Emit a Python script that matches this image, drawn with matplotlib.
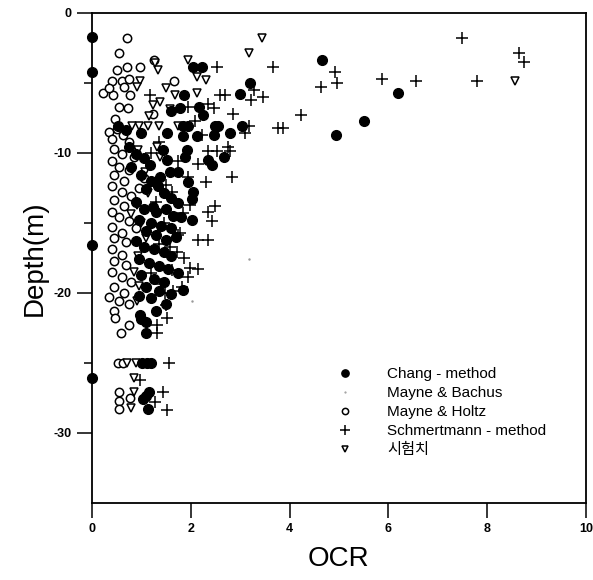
import matplotlib
matplotlib.use("Agg")
import matplotlib.pyplot as plt

# Chang - method (filled circles)
chang_x = [0, 0, 0, 0,
           4.65, 6.2, 5.5, 4.95, 3.2, 3.0, 2.05, 2.22, 1.86, 2.16, 2.24, 1.78, 1.6,
           1.52, 2.5, 2.56, 2.48, 2.8, 3.03, 1.84, 1.94, 1.84, 2.12, 0.53, 0.7, 1.0,
           1.43, 1.51, 1.92, 1.88, 2.34, 2.44, 2.67, 1.17, 1.58, 1.74, 1.37, 1.94,
           1.33, 2.04, 2.02, 1.74, 2.02, 1.23,
           0.75, 0.9, 1.05, 0.8, 1.0, 1.2, 1.1, 1.45, 1.6, 0.9, 1.05, 1.3, 1.5, 1.65,
           1.8, 0.95, 1.2, 1.4, 1.6, 1.1, 1.3, 1.5, 1.7, 0.9, 1.05, 1.25, 1.45, 1.6,
           0.95, 1.15, 1.35, 1.55, 1.75, 1.0, 1.25, 1.45, 1.1, 1.35, 1.6, 1.85, 0.95,
           1.2, 1.5, 1.3,
           0.97, 1.09, 1.09, 1.0, 1.01, 1.11, 1.19, 1.15, 1.03, 1.1, 1.13]
chang_y = [-1.7, -4.2, -16.6, -26.1,
           -3.4, -5.7, -7.7, -8.7, -5.0, -5.8, -3.85, -3.85, -5.9, -6.7, -7.3, -6.8, -7.0,
           -8.6, -8.1, -8.1, -8.7, -8.6, -8.1, -8.1, -8.1, -8.8, -8.8, -8.1, -8.4, -8.6,
           -9.8, -10.5, -9.8, -10.3, -10.5, -10.9, -10.3, -10.9, -11.4, -11.4, -11.7, -12.1,
           -12.4, -12.8, -13.3, -13.6, -14.8, -13.9,
           -9.6, -10.1, -10.4, -11.0, -11.6, -12.0, -12.6, -12.9, -13.2, -13.5, -14.0, -14.2,
           -14.0, -14.5, -14.6, -14.8, -15.0, -15.2, -15.4, -15.6, -15.9, -16.2, -16.0, -16.3,
           -16.7, -16.9, -17.1, -17.4, -17.6, -17.9, -18.1, -18.3, -18.6, -18.7, -19.0, -19.2,
           -19.6, -19.9, -20.1, -19.8, -20.2, -20.4, -20.8, -21.3,
           -21.6, -22.1, -22.9, -21.9, -25.0, -25.0, -25.0, -27.1, -27.6, -27.4, -28.3]

# Mayne & Bachus (barely visible dots)
bachus_x = [3.17, 2.02, 0.3]
bachus_y = [-17.6, -20.6, -5.4]

# Mayne & Holtz (open circles)
holtz_x = [0.71, 0.55, 0.5, 0.71, 0.97, 1.25, 1.66, 0.4, 0.6, 0.75, 0.22, 0.43, 0.77,
           0.55, 0.73, 1.24, 0.46, 0.35, 0.65, 0.5, 0.35, 0.62, 0.4, 0.75, 0.45, 0.6,
           0.85, 0.4, 0.55, 0.75, 0.45, 0.65, 0.4, 0.6, 0.8, 0.45, 0.65, 0.4, 0.55, 0.75,
           0.4, 0.6, 0.45, 0.7, 0.4, 0.6, 0.45, 0.7, 0.4, 0.6, 0.8, 0.45, 0.65, 0.35,
           0.55, 0.75, 0.45, 0.46, 0.75, 0.59, 0.53, 0.63, 0.55, 0.55, 0.55, 0.77, 1.05,
           0.95, 0.9]
holtz_y = [-1.8, -2.9, -4.1, -3.9, -3.9, -3.4, -4.9, -4.9, -4.9, -4.7, -5.7, -5.9, -5.9,
           -6.7, -6.8, -7.2, -7.6, -5.4, -5.3, -8.3, -8.5, -8.7, -9.0, -9.2, -9.7, -10.1,
           -10.3, -10.6, -11.0, -11.2, -11.6, -12.0, -12.4, -12.8, -13.1, -13.4, -13.8,
           -14.2, -14.6, -14.9, -15.3, -15.7, -16.1, -16.4, -16.9, -17.3, -17.7, -18.0,
           -18.5, -18.9, -19.2, -19.6, -20.0, -20.3, -20.6, -20.8, -21.3, -21.8, -22.3,
           -22.9, -25.0, -25.0, -27.1, -27.7, -28.3, -27.5, -11.8, -12.5, -15.4]

# Schmertmann - method (plus)
schm_x = [7.5, 8.65, 8.75, 4.93, 4.63, 4.97, 5.88, 6.57, 7.8, 4.24, 3.66, 2.53, 3.76,
          3.86, 3.29, 3.23, 3.47, 2.59, 2.69, 2.85, 1.94, 2.34, 2.48, 1.17, 2.08, 3.19,
          3.09, 2.22, 2.34, 2.53, 2.75, 2.79, 1.74, 2.83, 2.3, 1.94, 1.62, 2.5, 2.34,
          2.44, 1.84, 1.78, 2.14, 2.34, 1.74, 1.58, 1.72, 1.86, 1.98, 2.14, 1.62, 1.94,
          1.82, 1.64, 1.47, 1.5, 1.51, 1.31, 1.31, 1.56, 0.97, 1.43, 1.27, 1.51,
          1.35, 1.2, 1.5, 1.3, 1.45, 1.35, 1.2, 1.4, 2.14, 1.98]
schm_y = [-1.8, -2.9, -3.5, -4.2, -5.3, -5.0, -4.7, -4.9, -4.9, -7.3, -3.9, -3.9, -8.2,
          -8.2, -5.5, -6.2, -6.0, -5.9, -5.9, -7.2, -6.7, -6.5, -6.8, -5.9, -7.7, -8.1,
          -8.6, -8.7, -9.9, -9.9, -9.6, -9.9, -10.6, -11.7, -12.1, -11.7, -12.8, -13.8,
          -14.2, -14.9, -14.3, -15.7, -16.2, -16.2, -15.9, -16.7, -17.1, -17.5, -18.2,
          -18.3, -18.4, -18.9, -19.6, -19.9, -20.0, -20.9, -21.8, -22.3, -22.9, -25.0,
          -26.2, -27.1, -27.8, -28.4,
          -9.2, -10.0, -12.3, -13.5, -15.0, -16.5, -18.6, -19.4, -10.8, -13.7]

# 시험치 (open triangles)
test_x = [3.45, 3.17, 1.94, 1.33, 1.28, 2.12, 2.3, 0.97, 0.92, 2.12, 1.68, 1.37, 1.23,
          1.58, 1.15, 0.95, 0.81, 1.35, 1.13, 1.74, 1.31, 0.93, 1.37, 1.07, 1.13, 0.91,
          8.57, 0.71, 0.89, 0.85, 0.85, 0.79, 0.93, 0.91, 1.0, 0.85, 1.1, 0.8, 0.95, 1.5]
test_y = [-1.8, -2.9, -3.4, -4.1, -3.6, -4.6, -4.8, -4.9, -5.3, -5.7, -5.9, -6.4, -6.6,
          -6.9, -7.4, -8.1, -8.1, -8.1, -8.1, -8.1, -9.6, -9.8, -10.3, -11.4, -12.9, -13.7,
          -4.9, -25.0, -25.0, -26.1, -27.1, -28.2, -17.4, -20.6, -15.0, -18.5, -16.1, -14.4,
          -19.5, -5.4]

labels = ["Chang - method", "Mayne & Bachus", "Mayne & Holtz",
          "Schmertmann - method", "시험치"]

plt.rcParams['font.family'] = ['Liberation Sans', 'Noto Sans CJK KR', 'DejaVu Sans']
plt.rcParams['axes.unicode_minus'] = False

fig = plt.figure(figsize=(5.93, 5.80), dpi=100)
ax = fig.add_axes([0.155, 0.133, 0.833, 0.845])

ax.plot(chang_x, chang_y, 'o', color='black', markersize=7, label=labels[0],
        clip_on=False, zorder=4)
ax.plot(bachus_x, bachus_y, '.', color='#999999', markersize=1.5, label=labels[1])
ax.plot(holtz_x, holtz_y, 'o', markerfacecolor='white', markeredgecolor='black',
        markeredgewidth=1.1, markersize=6, label=labels[2], zorder=3)
ax.plot(schm_x, schm_y, '+', color='black', markersize=9, markeredgewidth=1.1,
        label=labels[3], zorder=3)
ax.plot(test_x, test_y, 'v', markerfacecolor='white', markeredgecolor='black',
        markeredgewidth=1.1, markersize=6, label=labels[4], zorder=3)

ax.set_xlim(0, 10)
ax.set_ylim(-35, 0)
ax.set_xticks([0, 2, 4, 6, 8, 10])
ax.set_yticks([0, -10, -20, -30])
ax.set_yticks([-5, -15, -25], minor=True)
ax.tick_params(which='major', direction='out', length=11, width=1.1, labelsize=9)
ax.tick_params(which='minor', direction='out', length=6, width=1.1)
for lab in ax.get_xticklabels() + ax.get_yticklabels():
    lab.set_fontweight('bold')
for s in ax.spines.values():
    s.set_linewidth(1.3)

ax.set_xlabel("OCR", fontsize=20, labelpad=8)
ax.set_ylabel("Depth(m)", fontsize=20, labelpad=4)

leg = ax.legend(loc='upper left', bbox_to_anchor=(0.454, 0.305), frameon=False,
                fontsize=11, handlelength=2, handletextpad=1.75, labelspacing=0.33,
                markerscale=0.75)

fig.savefig("out.png", dpi=100)
